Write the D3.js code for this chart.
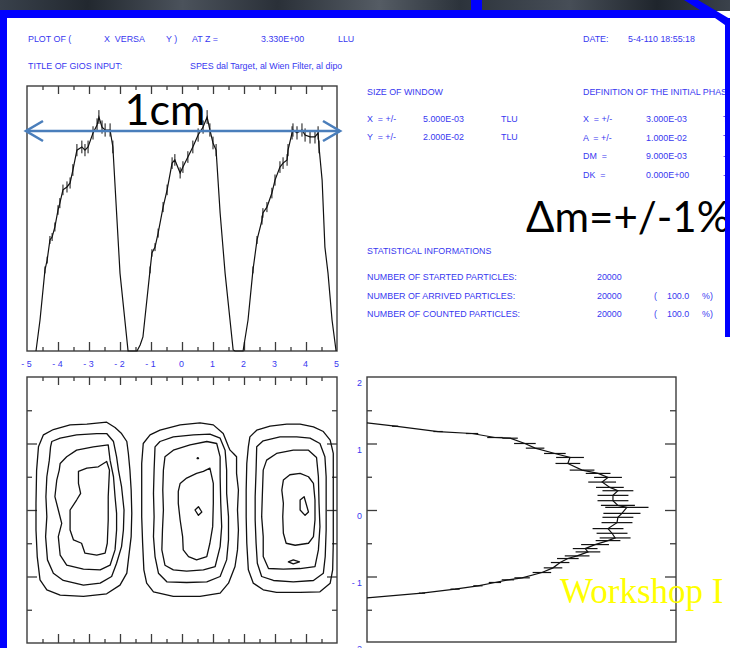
<!DOCTYPE html>
<html>
<head>
<meta charset="utf-8">
<script src="https://cdn.jsdelivr.net/npm/d3@7"></script>
<style>
  body { margin: 0; background: #ffffff; overflow: hidden; }
  svg { display: block; }
  .info { font-family: "Liberation Sans", Arial, sans-serif; font-size: 8.9px; fill: #3838f0; white-space: pre; }
</style>
</head>
<body>
<svg id="chart" width="730" height="648"></svg>
<script>
// ---- axis values and labels ----
const xTickValues = [-5, -4, -3, -2, -1, 0, 1, 2, 3, 4, 5];
const xTickLabels = ["- 5", "- 4", "- 3", "- 2", "- 1", "0", "1", "2", "3", "4", "5"];
const yTickValues = [2, 1, 0, -1, -2];
const yTickLabels = ["2", "1", "0", "- 1", "- 2"];
const xMajor = [-4, -3, -2, -1, 0, 1, 2, 3, 4];
const xMinor = [-4.5, -3.5, -2.5, -1.5, -0.5, 0.5, 1.5, 2.5, 3.5, 4.5];
const yMajor = [-1, 0, 1];
const yMinor = [-1.5, -0.5, 0.5, 1.5];

// ---- X projection: [x, counts, error] ----
const xProfile = [
  [-4.71,0,0],[-4.58,11.7,0],[-4.42,30.6,1.3],[-4.35,34.3,1.3],[-4.26,41.9,1.5],[-4.19,43.0,1.5],
  [-4.10,46.8,1.7],[-4.00,53.2,1.8],[-3.94,55.8,1.9],[-3.84,60.8,2.0],[-3.71,61.9,2.1],[-3.61,63.4,2.1],
  [-3.52,68.3,2.2],[-3.39,75.8,2.3],[-3.23,77.0,2.4],[-3.13,75.8,2.3],[-3.03,77.0,2.4],[-2.87,82.3,2.5],
  [-2.74,85.3,2.5],[-2.68,88.3,2.6],[-2.58,84.5,2.5],[-2.48,83.4,2.5],[-2.32,83.4,2.5],[-2.23,77.0,2.4],
  [-2.00,29.4,0],[-1.74,0,0],[-1.61,0,0],[-1.45,0,0],[-1.35,2.3,0],[-1.26,5.3,0],
  [-1.03,30.6,1.3],[-0.97,37.0,1.4],[-0.87,39.2,1.5],[-0.77,44.5,1.7],[-0.61,54.3,1.9],[-0.48,60.8,2.0],
  [-0.32,70.9,2.2],[-0.23,72.1,2.2],[-0.06,67.2,2.1],[0.03,69.4,2.2],[0.19,73.2,2.2],[0.35,77.0,2.4],
  [0.52,81.5,2.5],[0.68,84.5,2.5],[0.81,88.3,2.6],[0.90,83.4,2.5],[1.00,78.5,2.4],[1.10,75.8,2.3],
  [1.23,52.1,0],[1.39,29.4,0],[1.65,0.4,0],[1.71,0,0],[1.97,0,0],[2.13,11.7,0],
  [2.29,30.6,1.3],[2.42,41.9,1.5],[2.58,49.4,1.7],[2.61,52.1,1.8],[2.74,54.3,1.9],[2.90,59.6,2.0],
  [3.00,64.5,2.1],[3.16,69.4,2.2],[3.26,70.9,2.2],[3.39,72.1,2.2],[3.42,75.8,2.3],[3.55,82.3,2.5],
  [3.58,83.4,2.5],[3.71,82.3,2.5],[3.87,83.4,2.5],[3.97,81.5,2.5],[4.13,80.8,2.5],[4.29,80.8,2.5],
  [4.39,82.3,2.5],[4.42,77.0,2.4],[4.52,64.5,0],[4.61,39.2,0],[4.71,29.4,0],[4.84,11.7,0],[4.97,0,0]
];

// ---- Y projection: [y, counts, error] ----
const yProfile = [
  [1.31,0,0],[1.26,9.1,1],[1.18,23.0,1.5],[1.15,34.0,2],[1.09,41.4,2.5],[1.08,46.3,2.5],
  [1.00,51.1,3.5],[0.93,54.4,3],[0.85,60.8,3.5],[0.79,65.7,4.5],[0.70,65.0,4],[0.60,69.6,4],
  [0.55,74.8,4],[0.49,78.0,4.5],[0.42,76.1,4.5],[0.34,78.6,4.5],[0.29,81.2,5],[0.22,79.6,5],
  [0.14,79.6,5],[0.07,81.2,5.5],[0.04,84.1,7],[-0.05,82.5,6],[-0.11,81.2,5],[-0.19,80.9,5],
  [-0.28,78.0,5],[-0.35,79.3,5],[-0.42,80.3,5],[-0.46,78.0,4],[-0.52,73.8,4.5],[-0.58,70.6,4],
  [-0.63,71.5,4],[-0.69,68.0,4],[-0.73,65.0,3.5],[-0.79,62.5,3],[-0.87,60.2,3],[-0.94,56.6,3],
  [-1.02,50.2,2.5],[-1.05,45.6,2],[-1.09,41.4,2],[-1.14,35.9,1.5],[-1.19,28.5,1.5],[-1.25,17.8,1],
  [-1.32,0,0]
];

// ---- X-Y density contours, one list of closed rings per beamlet ----
const contoursLeft = [
  [[-4.47,1.13],[-4.15,1.21],[-3.61,1.28],[-3.07,1.29],[-2.43,1.32],[-2.16,1.24],[-1.95,1.15],[-1.78,1.03],
   [-1.73,0.85],[-1.68,0.60],[-1.64,0.30],[-1.62,-0.05],[-1.64,-0.40],[-1.73,-0.75],[-1.78,-0.95],[-2.00,-1.13],
   [-2.43,-1.26],[-3.18,-1.30],[-3.93,-1.28],[-4.36,-1.20],[-4.58,-1.05],[-4.67,-0.70],[-4.71,-0.30],[-4.71,0.10],
   [-4.69,0.60],[-4.63,0.95]],
  [[-4.20,1.03],[-3.93,1.08],[-3.40,1.13],[-2.75,1.15],[-2.43,1.15],[-2.21,1.03],[-2.11,0.80],[-2.05,0.60],
   [-1.95,0.35],[-1.87,0.00],[-1.89,-0.30],[-1.95,-0.55],[-2.11,-0.80],[-2.27,-1.00],[-2.64,-1.10],[-3.18,-1.13],
   [-3.83,-1.06],[-4.15,-0.95],[-4.34,-0.75],[-4.40,-0.40],[-4.36,-0.10],[-4.39,0.20],[-4.36,0.50],[-4.28,0.75],
   [-4.24,0.95]],
  [[-3.93,0.70],[-3.72,0.80],[-3.40,0.90],[-2.86,0.95],[-2.38,0.98],[-2.32,0.75],[-2.21,0.50],[-2.16,0.20],
   [-2.11,-0.05],[-2.11,-0.30],[-2.16,-0.60],[-2.32,-0.83],[-2.64,-0.90],[-3.18,-0.89],[-3.72,-0.83],[-3.93,-0.68],
   [-3.99,-0.40],[-3.88,-0.20],[-3.99,0.00],[-4.10,0.20],[-4.04,0.45],[-3.96,0.60]],
  [[-3.34,0.58],[-3.07,0.63],[-2.70,0.65],[-2.43,0.73],[-2.34,0.60],[-2.38,0.20],[-2.38,-0.15],[-2.41,-0.50],
   [-2.48,-0.65],[-2.75,-0.68],[-3.13,-0.65],[-3.24,-0.50],[-3.50,-0.45],[-3.61,-0.30],[-3.61,0.00],[-3.40,0.15],
   [-3.27,0.25],[-3.34,0.40]]
];
const contoursMiddle = [
  [[-1.25,1.00],[-1.03,1.13],[-0.71,1.20],[-0.06,1.28],[0.58,1.31],[1.01,1.28],[1.33,1.15],[1.50,0.95],
   [1.55,0.90],[1.66,0.85],[1.76,0.80],[1.76,0.55],[1.82,0.30],[1.79,0.00],[1.82,-0.30],[1.79,-0.60],
   [1.71,-0.85],[1.50,-1.10],[1.23,-1.25],[0.58,-1.30],[-0.28,-1.30],[-0.92,-1.23],[-1.14,-1.10],[-1.23,-0.90],
   [-1.27,-0.50],[-1.30,-0.10],[-1.30,0.30],[-1.30,0.70]],
  [[-0.87,0.95],[-0.71,1.03],[-0.28,1.10],[0.37,1.13],[0.90,1.14],[1.23,1.08],[1.39,0.90],[1.44,0.60],
   [1.44,0.25],[1.50,-0.10],[1.50,-0.45],[1.44,-0.75],[1.23,-1.00],[0.80,-1.08],[0.15,-1.09],[-0.49,-1.08],
   [-0.76,-0.95],[-0.87,-0.70],[-0.92,-0.40],[-0.90,-0.10],[-0.92,0.25],[-0.90,0.60]],
  [[-0.55,0.80],[-0.28,0.90],[0.26,0.98],[0.80,1.03],[1.12,1.00],[1.23,0.80],[1.23,0.50],[1.25,0.10],
   [1.28,-0.25],[1.23,-0.55],[1.07,-0.85],[0.69,-0.90],[0.15,-0.92],[-0.28,-0.90],[-0.55,-0.83],[-0.65,-0.60],
   [-0.63,-0.30],[-0.60,0.00],[-0.62,0.30],[-0.60,0.60]],
  [[-0.06,0.40],[0.15,0.48],[0.47,0.55],[0.69,0.58],[0.90,0.63],[1.01,0.40],[1.01,0.10],[0.99,-0.25],
   [0.90,-0.50],[0.80,-0.70],[0.47,-0.75],[0.21,-0.70],[0.04,-0.60],[0.02,-0.40],[-0.06,-0.15],[-0.12,0.10],
   [-0.12,0.28]],
  [[0.42,0.00],[0.53,0.05],[0.64,-0.03],[0.53,-0.08]]
];
const contoursRight = [
  [[2.19,1.10],[2.41,1.20],[2.84,1.26],[3.38,1.29],[3.81,1.29],[4.24,1.25],[4.56,1.18],[4.78,1.05],
   [4.88,0.85],[4.88,0.50],[4.88,0.00],[4.88,-0.50],[4.86,-0.90],[4.78,-1.10],[4.45,-1.23],[3.81,-1.24],
   [3.05,-1.24],[2.62,-1.20],[2.30,-1.10],[2.14,-0.90],[2.09,-0.50],[2.07,-0.10],[2.07,0.30],[2.09,0.70],
   [2.14,0.95]],
  [[2.41,0.95],[2.62,1.04],[3.16,1.10],[3.70,1.10],[4.13,1.08],[4.45,1.00],[4.61,0.80],[4.65,0.50],
   [4.65,0.10],[4.65,-0.30],[4.62,-0.70],[4.56,-0.95],[4.24,-1.06],[3.59,-1.08],[2.95,-1.06],[2.57,-1.00],
   [2.43,-0.80],[2.39,-0.50],[2.36,-0.15],[2.36,0.20],[2.39,0.60]],
  [[2.62,0.60],[2.73,0.75],[3.05,0.85],[3.59,0.90],[4.08,0.90],[4.34,0.79],[4.40,0.50],[4.42,0.10],
   [4.45,-0.25],[4.40,-0.60],[4.29,-0.85],[3.81,-0.88],[3.27,-0.89],[2.79,-0.88],[2.62,-0.70],[2.62,-0.40],
   [2.57,-0.10],[2.59,0.20]],
  [[3.27,0.45],[3.48,0.53],[3.81,0.55],[4.08,0.50],[4.24,0.40],[4.29,0.15],[4.29,-0.15],[4.24,-0.40],
   [4.08,-0.50],[3.65,-0.53],[3.36,-0.50],[3.27,-0.35],[3.25,-0.10],[3.27,0.10],[3.22,0.30]],
  [[3.81,0.15],[3.94,0.20],[4.08,-0.03],[3.97,-0.08],[3.81,0.00]],
  [[3.43,-0.78],[3.59,-0.75],[3.79,-0.78],[3.59,-0.81]]
];
const contourDots = [[0.51, 0.78]];

// ---- printed run information ----
const headerRow = ["PLOT OF (", "X  VERSA", "Y )", "AT Z =", "3.330E+00", "LLU"];
const titleRow = ["TITLE OF GIOS INPUT:", "SPES dal Target, al Wien Filter, al dipo"];
const dateRow = ["DATE:", "5-4-110 18:55:18"];
const windowRows = [["X  = +/-", "5.000E-03", "TLU"], ["Y  = +/-", "2.000E-02", "TLU"]];
const phaseRows = [["X  = +/-", "3.000E-03", "TLU"], ["A  = +/-", "1.000E-02", "TLA"],
                   ["DM  =", "9.000E-03", "-"], ["DK  =", "0.000E+00", "-"]];
const statRows = [["NUMBER OF STARTED PARTICLES:", "20000", "", "", ""],
                  ["NUMBER OF ARRIVED PARTICLES:", "20000", "(", "100.0", "%)"],
                  ["NUMBER OF COUNTED PARTICLES:", "20000", "(", "100.0", "%)"]];

// ---- scales ----
const xPos = d3.scaleLinear().domain([-5, 5]).range([27, 337]);
const yCounts = d3.scaleLinear().domain([0, 100]).range([351, 86]);
const yPos = d3.scaleLinear().domain([-2, 2]).range([643, 377]);
const xCounts = d3.scaleLinear().domain([0, 100]).range([367, 676]);

const svg = d3.select("#chart");

// ---- slide background strip ----
const grad = svg.append("defs").append("linearGradient").attr("id", "strip");
[["0%", "#39414b"], ["12%", "#22282f"], ["25%", "#4b525b"], ["38%", "#2a3038"], ["52%", "#555c64"],
 ["63%", "#2c333b"], ["78%", "#474e57"], ["90%", "#1f252c"], ["100%", "#3b424b"]]
  .forEach(([o, c]) => grad.append("stop").attr("offset", o).attr("stop-color", c));
svg.append("rect").attr("x", 0).attr("y", 0).attr("width", 730).attr("height", 11).attr("fill", "url(#strip)");

// ---- plot frames ----
const frameColor = "#3c3c3c";
function frame(x0, y0, x1, y1) {
  svg.append("rect").attr("x", x0).attr("y", y0).attr("width", x1 - x0).attr("height", y1 - y0)
    .attr("fill", "none").attr("stroke", frameColor).attr("stroke-width", 1.4);
}

function edgeTicks(axis, values, size, tx, ty) {
  const g = svg.append("g").attr("transform", `translate(${tx},${ty})`)
    .call(axis.tickValues(values).tickSize(size).tickSizeOuter(0).tickFormat(""));
  g.select(".domain").remove();
  g.selectAll("line").attr("stroke", frameColor).attr("stroke-width", 1.3);
}

// X projection
frame(27, 86, 337, 351);
edgeTicks(d3.axisTop(xPos), xMajor, -8, 0, 86);
edgeTicks(d3.axisTop(xPos), xMinor, -4, 0, 86);
edgeTicks(d3.axisBottom(xPos), xMajor, -9, 0, 351);
edgeTicks(d3.axisBottom(xPos), xMinor, -4, 0, 351);

const xLabelAxis = svg.append("g").attr("transform", "translate(-1,351)")
  .call(d3.axisBottom(xPos).tickValues(xTickValues).tickSize(0).tickPadding(10)
        .tickFormat((d, i) => xTickLabels[i]));
xLabelAxis.select(".domain").remove();
xLabelAxis.selectAll("text").attr("class", "info").attr("font-family", null).attr("font-size", null).attr("fill", null);

const lineX = d3.line().x(d => xPos(d[0])).y(d => yCounts(d[1]));
svg.append("path").datum(xProfile).attr("d", lineX)
  .attr("fill", "none").attr("stroke", "#111").attr("stroke-width", 1.2);
svg.append("g").selectAll("line").data(xProfile.filter(d => d[2] > 0)).join("line")
  .attr("x1", d => xPos(d[0])).attr("x2", d => xPos(d[0]))
  .attr("y1", d => yCounts(d[1] - d[2])).attr("y2", d => yCounts(d[1] + d[2]))
  .attr("stroke", "#111").attr("stroke-width", 1);

// X-Y contours
frame(27, 377, 337, 643);
edgeTicks(d3.axisTop(xPos), xMajor, -8, 0, 377);
edgeTicks(d3.axisTop(xPos), xMinor, -4, 0, 377);
edgeTicks(d3.axisBottom(xPos), xMajor, -9, 0, 643);
edgeTicks(d3.axisBottom(xPos), xMinor, -4, 0, 643);
edgeTicks(d3.axisLeft(yPos), yMajor, -10, 27, 0);
edgeTicks(d3.axisLeft(yPos), yMinor, -5, 27, 0);
edgeTicks(d3.axisRight(yPos), yMajor, -10, 337, 0);
edgeTicks(d3.axisRight(yPos), yMinor, -5, 337, 0);

const ring = d3.line().x(d => xPos(d[0])).y(d => yPos(d[1])).curve(d3.curveLinearClosed);
svg.append("g").selectAll("path").data([...contoursLeft, ...contoursMiddle, ...contoursRight]).join("path")
  .attr("d", ring).attr("fill", "none").attr("stroke", "#111").attr("stroke-width", 1.3)
  .attr("stroke-linejoin", "round");
svg.append("g").selectAll("circle").data(contourDots).join("circle")
  .attr("cx", d => xPos(d[0])).attr("cy", d => yPos(d[1])).attr("r", 1.2).attr("fill", "#111");

// shared position labels
svg.append("g").selectAll("text").data(yTickValues).join("text")
  .attr("class", "info").attr("text-anchor", "end")
  .attr("x", 362).attr("y", d => yPos(d) + 9)
  .text((d, i) => yTickLabels[i]);

// Y projection
frame(367, 377, 676, 642);
edgeTicks(d3.axisLeft(yPos), yMajor, -10, 367, 0);
edgeTicks(d3.axisLeft(yPos), yMinor, -5, 367, 0);
edgeTicks(d3.axisRight(yPos), yMajor, -11, 676, 0);
edgeTicks(d3.axisRight(yPos), yMinor, -6, 676, 0);

const lineY = d3.line().x(d => xCounts(d[1])).y(d => yPos(d[0]));
svg.append("path").datum(yProfile).attr("d", lineY)
  .attr("fill", "none").attr("stroke", "#111").attr("stroke-width", 1.2);
svg.append("g").selectAll("line").data(yProfile.filter(d => d[2] > 0)).join("line")
  .attr("x1", d => xCounts(d[1] - d[2])).attr("x2", d => xCounts(d[1] + d[2]))
  .attr("y1", d => yPos(d[0])).attr("y2", d => yPos(d[0]))
  .attr("stroke", "#111").attr("stroke-width", 1.2);

// ---- printed run information ----
function info(text, x, y) {
  svg.append("text").attr("class", "info").attr("x", x).attr("y", y).text(text);
}
[28, 104, 166, 192, 261, 338].forEach((x, i) => info(headerRow[i], x, 42));
[28, 190].forEach((x, i) => info(titleRow[i], x, 69));
[583, 628].forEach((x, i) => info(dateRow[i], x, 42));
info("SIZE OF WINDOW", 367, 95);
info("DEFINITION OF THE INITIAL PHASE SPACE", 583, 95);
windowRows.forEach((r, j) => [367, 423, 501].forEach((x, i) => info(r[i], x, 122 + j * 18)));
phaseRows.forEach((r, j) => [583, 646, 723].forEach((x, i) => info(r[i], x, 122 + j * 18.5)));
info("STATISTICAL INFORMATIONS", 367, 254);
statRows.forEach((r, j) => [367, 597, 654, 667, 702].forEach((x, i) => info(r[i], x, 280 + j * 18.5)));

// ---- slide annotations ----
const annot = "#4a7ebb";
svg.append("line").attr("x1", 26).attr("x2", 340).attr("y1", 131).attr("y2", 131)
  .attr("stroke", annot).attr("stroke-width", 2.6);
svg.append("path").attr("d", "M43,121 L26,131 L43,141 M323,121 L340,131 L323,141")
  .attr("fill", "none").attr("stroke", annot).attr("stroke-width", 2.6);
svg.append("text").attr("x", 165).attr("y", 125).attr("text-anchor", "middle")
  .attr("font-family", "Lato, 'Open Sans', sans-serif").attr("font-size", 43).attr("fill", "#000").text("1cm");
svg.append("text").attr("x", 526).attr("y", 232)
  .attr("font-family", "Lato, 'Open Sans', sans-serif").attr("font-size", 42).attr("fill", "#000").text("Δm=+/-1%");
svg.append("text").attr("x", 560).attr("y", 603)
  .attr("font-family", "'Liberation Serif', 'Times New Roman', serif").attr("font-size", 35).attr("fill", "#ffff00")
  .text("Workshop I");

// ---- slide border (blue) ----
const blue = "#0000ff";
svg.append("rect").attr("x", 0).attr("y", 10).attr("width", 716).attr("height", 8).attr("fill", blue);
svg.append("rect").attr("x", 0).attr("y", 10).attr("width", 7).attr("height", 638).attr("fill", blue);
svg.append("rect").attr("x", 725).attr("y", 18).attr("width", 5).attr("height", 319).attr("fill", blue);
svg.append("rect").attr("x", 471).attr("y", 0).attr("width", 11).attr("height", 10).attr("fill", blue);
svg.append("path").attr("d", "M684,0 L698,0 L730,19 L730,30 L725,30 L725,25 L715,18 L716,10 L700,10 Z").attr("fill", blue);
</script>
</body>
</html>
